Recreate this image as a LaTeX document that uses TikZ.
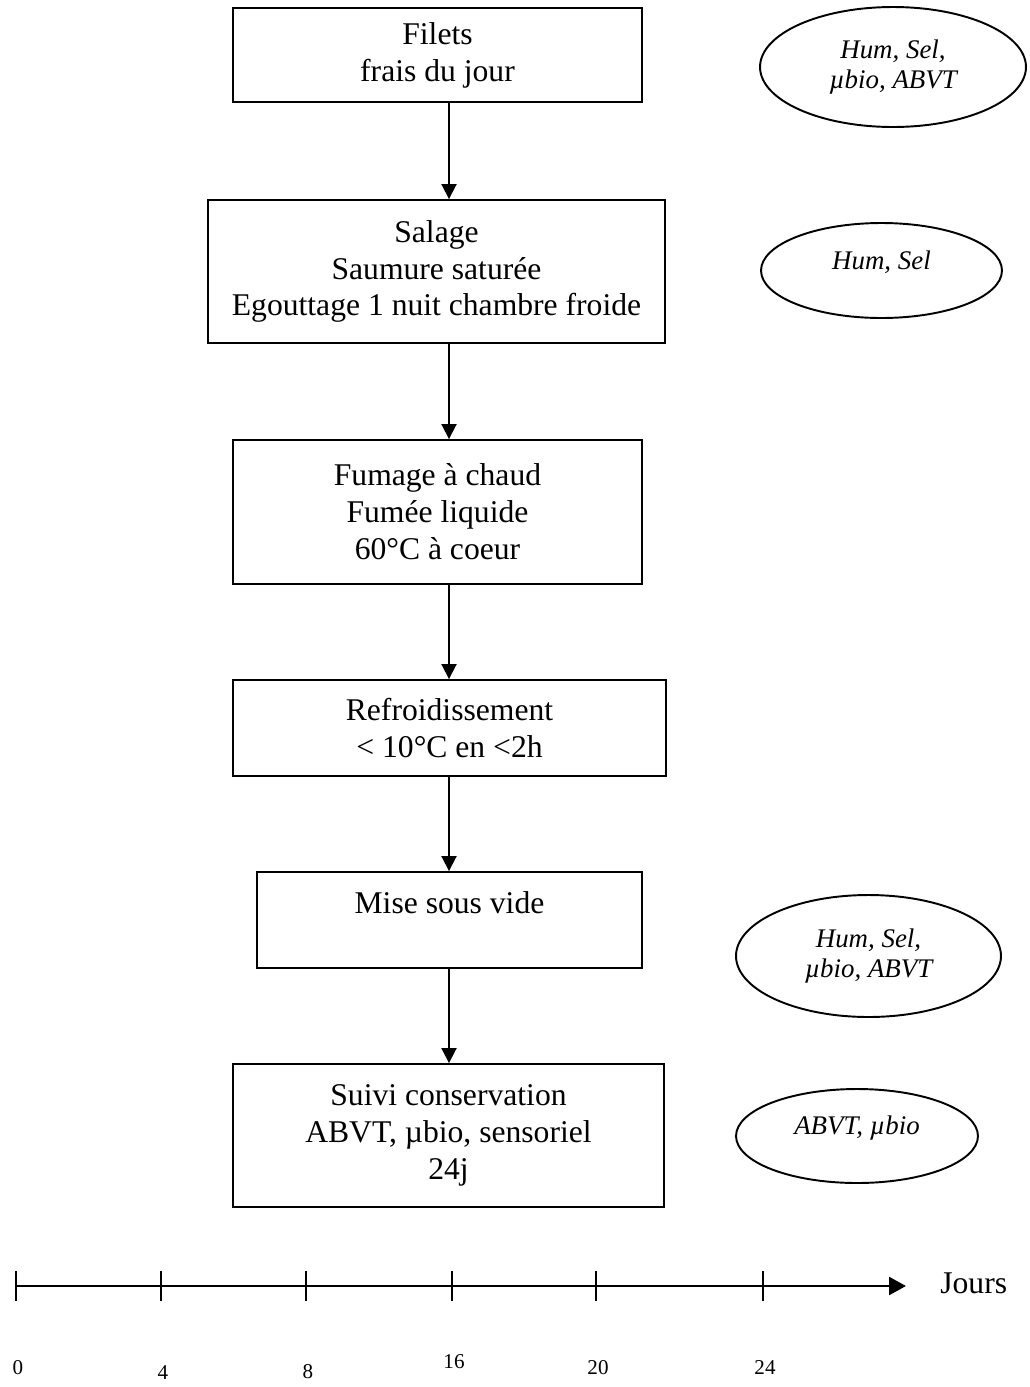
\documentclass[tikz,border=0pt]{standalone}
\usepackage{fontspec}
\setmainfont{Liberation Serif}
\usetikzlibrary{arrows.meta,positioning,shapes.geometric}
\tikzset{
  blk/.style={draw,rectangle,line width=1.1pt,align=center,inner sep=2pt,
    font=\fontsize{18}{21}\selectfont},
  ovl/.style={draw,ellipse,line width=1.1pt,align=center,inner sep=1pt,
    font=\fontsize{15.3}{17}\selectfont\itshape},
  arr/.style={-{Triangle[width=0.3cm,length=0.3cm]},line width=1.1pt},
  axarr/.style={-{Triangle[width=0.36cm,length=0.34cm]},line width=1.5pt},
  tck/.style={line width=1.1pt},
  numlbl/.style={font=\fontsize{12}{13}\selectfont,inner sep=0pt}
}
\begin{document}
\begin{tikzpicture}[x=0.02cm,y=-0.02cm]
  \useasboundingbox[fill=white] (0,0) rectangle (1029,1387);

  % etapes du procede
  \node[blk,minimum width=8.18cm,minimum height=1.88cm] (filets) at (437.5,55) {Filets\\frais du jour};
  \node[blk,minimum width=9.14cm,minimum height=2.86cm] (salage) at (436.5,271.5) {Salage\\Saumure saturée\\Egouttage 1 nuit chambre froide};
  \node[blk,minimum width=8.18cm,minimum height=2.88cm] (fumage) at (437.5,512) {Fumage à chaud\\Fumée liquide\\60°C à coeur};
  \node[blk,minimum width=8.66cm,minimum height=1.92cm] (refroid) at (449.5,728) {Refroidissement\\< 10°C en <2h};
  \node[blk,minimum width=7.7cm,minimum height=1.92cm] (vide) at (449.5,920) {Mise sous vide\\[-0.24cm] \strut};
  \node[blk,minimum width=8.62cm,minimum height=2.86cm] (suivi) at (448.5,1135.5) {Suivi conservation\\ABVT, µbio, sensoriel\\24j};

  % analyses
  \node[ovl,minimum width=5.32cm,minimum height=2.4cm] (ana1) at (893,67) {Hum, Sel,\\µbio, ABVT};
  \node[ovl,minimum width=4.82cm,minimum height=1.9cm,text depth=0.42cm] (ana2) at (881.5,270.5) {Hum, Sel};
  \node[ovl,minimum width=5.3cm,minimum height=2.44cm] (ana3) at (868.5,956) {Hum, Sel,\\µbio, ABVT};
  \node[ovl,minimum width=4.84cm,minimum height=1.88cm,text depth=0.42cm] (ana4) at (857,1136) {ABVT, µbio};

  \coordinate (ax) at (449,0);
  \draw[arr] (filets.south -| ax) -- (salage.north -| ax);
  \draw[arr] (salage.south -| ax) -- (fumage.north -| ax);
  \draw[arr] (fumage.south -| ax) -- (refroid.north -| ax);
  \draw[arr] (refroid.south -| ax) -- (vide.north -| ax);
  \draw[arr] (vide.south -| ax) -- (suivi.north -| ax);

  % axe des jours
  \coordinate (t0) at (16,1286);
  \coordinate (tend) at (906,1286);
  \node[font=\fontsize{18}{21}\selectfont,anchor=west,inner sep=0pt] (jours) at (940,1283) {Jours};
  \draw[axarr] (t0) -- (tend);
  \foreach \x/\d/\ly in {16/0/1368,161/4/1373,306/8/1372,452/16/1362,596/20/1368,763/24/1368}{
    \draw[tck] (\x,1271) -- (\x,1301);
    \node[numlbl] (j\d) at (\x+2,\ly) {\d};
  }
\end{tikzpicture}
\end{document}
